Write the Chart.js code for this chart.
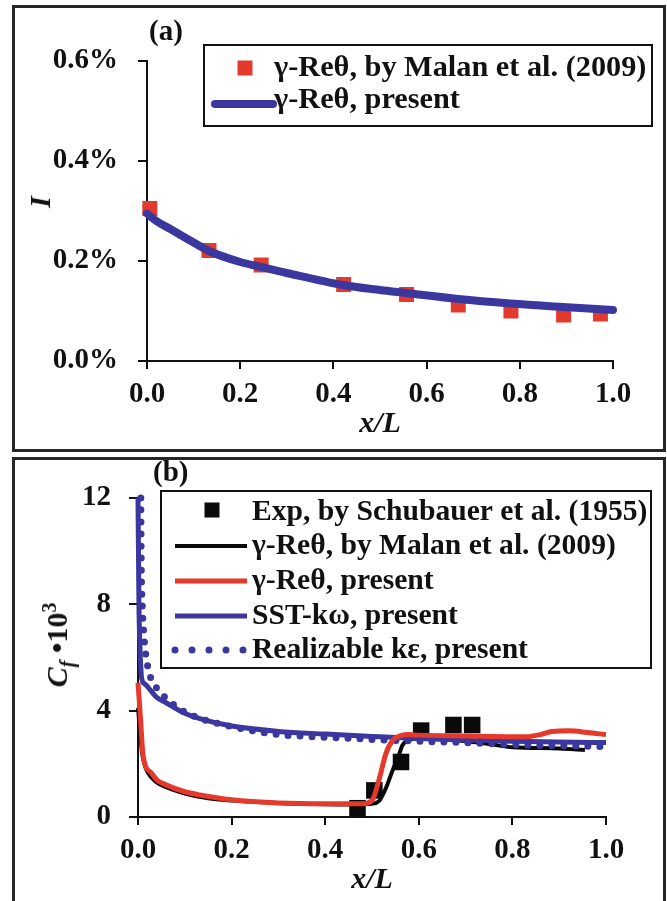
<!DOCTYPE html>
<html>
<head>
<meta charset="utf-8">
<script src="https://cdn.jsdelivr.net/npm/chart.js@4.4.1/dist/chart.umd.min.js"></script>
<style>
  html, body { margin: 0; padding: 0; background: #fff; }
  body { width: 667px; height: 901px; position: relative; overflow: hidden;
         font-family: "Liberation Serif", "Times New Roman", serif; }
  .frame { position: absolute; border: 3px solid #262626; box-sizing: border-box; }
  #frameA { left: 12px; top: 5px; width: 654px; height: 447px; }
  #frameB { left: 12px; top: 457px; width: 654px; height: 470px; }
  canvas { position: absolute; left: 0; }
  #cA { top: 0; }
  #cB { top: 457px; }
  .lbl { position: absolute; font-weight: bold; color: #111; line-height: 1; white-space: nowrap; }
  .rot { transform: translate(-50%, -50%) rotate(-90deg); }
  .lbl sub, .lbl sup { font-size: 20px; line-height: 0; }
</style>
</head>
<body>
<div class="frame" id="frameA"></div>
<div class="frame" id="frameB"></div>
<canvas id="cA" width="667" height="452"></canvas>
<canvas id="cB" width="667" height="444"></canvas>

<div class="lbl" style="left:149px; top:16px; font-size:29px;">(a)</div>
<div class="lbl" style="left:153px; top:457px; font-size:29px;">(b)</div>
<div class="lbl rot" style="left:40px; top:202px; font-size:30px;"><i>I</i></div>
<div class="lbl rot" style="left:57px; top:645px; font-size:30px;"><i>C<sub>f</sub></i> •10<sup>3</sup></div>

<script>
// ---- (a) turbulence intensity along the plate ----
const aMalanX = [0.006, 0.133, 0.245, 0.422, 0.557, 0.668, 0.781, 0.894, 0.973];
const aMalanI = [0.305, 0.221, 0.192, 0.153, 0.133, 0.112, 0.100, 0.092, 0.094];
const aPresentX = [0, 0.02, 0.05, 0.1, 0.133, 0.2, 0.245, 0.3, 0.42, 0.5, 0.556, 0.668, 0.78, 0.893, 1.0];
const aPresentI = [0.295, 0.28, 0.264, 0.237, 0.22, 0.198, 0.188, 0.176, 0.152, 0.142, 0.136, 0.124, 0.115, 0.108, 0.102];
const aYTicks = [0, 0.2, 0.4, 0.6];
const aXTicks = [0, 0.2, 0.4, 0.6, 0.8, 1.0];

// ---- (b) skin friction coefficient ----
const bExpX = [0.469, 0.505, 0.562, 0.605, 0.674, 0.714];
const bExpCf = [0.33, 1.0, 2.07, 3.25, 3.46, 3.46];
const bMalanX = [0, 0.004, 0.008, 0.012, 0.02, 0.04, 0.06, 0.1, 0.15, 0.2, 0.3, 0.4, 0.45, 0.5, 0.515, 0.53, 0.545, 0.557, 0.565, 0.58, 0.6, 0.7, 0.75, 0.8, 0.9, 0.955];
const bMalanCf = [4.1, 3.3, 2.5, 2.1, 1.7, 1.3, 1.12, 0.88, 0.7, 0.62, 0.53, 0.48, 0.47, 0.5, 0.6, 1.1, 1.8, 2.3, 2.7, 2.9, 2.95, 2.85, 2.75, 2.62, 2.58, 2.52];
const bPresentX = [0, 0.003, 0.006, 0.011, 0.029, 0.04, 0.061, 0.1, 0.132, 0.2, 0.3, 0.4, 0.48, 0.5, 0.515, 0.53, 0.545, 0.56, 0.58, 0.6, 0.7, 0.8, 0.83, 0.86, 0.885, 0.92, 0.96, 1.0];
const bPresentCf = [5.05, 4.3, 3.5, 2.3, 1.65, 1.4, 1.2, 0.95, 0.83, 0.65, 0.53, 0.5, 0.5, 0.62, 1.4, 2.4, 2.9, 3.05, 3.1, 3.08, 3.05, 3.02, 3.02, 3.1, 3.22, 3.24, 3.18, 3.1];
const bSstX = [0, 0.001, 0.002, 0.004, 0.008, 0.015, 0.026, 0.04, 0.061, 0.1, 0.132, 0.2, 0.3, 0.4, 0.5, 0.6, 0.7, 0.8, 0.9, 1.0];
const bSstCf = [12, 10, 8, 6.5, 5.2, 5.0, 4.78, 4.5, 4.29, 3.9, 3.7, 3.42, 3.22, 3.12, 3.03, 2.95, 2.9, 2.85, 2.82, 2.8];
const bRkeX = [0.006, 0.007, 0.009, 0.012, 0.016, 0.026, 0.04, 0.055, 0.09, 0.13, 0.175, 0.22, 0.26, 0.3, 0.4, 0.5, 0.6, 0.7, 0.8, 0.9, 1.0];
const bRkeCf = [12, 9.5, 8, 7, 6.2, 5.3, 4.85, 4.55, 4.05, 3.72, 3.5, 3.33, 3.2, 3.1, 3.0, 2.92, 2.85, 2.8, 2.72, 2.68, 2.65];
const bYTicks = [0, 4, 8, 12];
const bXTicks = [0, 0.2, 0.4, 0.6, 0.8, 1.0];

const pts = (xs, ys) => xs.map((x, i) => ({ x: x, y: ys[i] }));

const SERIF = '"Liberation Serif", "Times New Roman", serif';
const INK = '#111';
const BLUE = '#3a379f';
const RED = '#e6382b';

// boxed legend drawn inside the plot, one row per dataset
const boxLegend = {
  id: 'boxLegend',
  afterDatasetsDraw(chart, args, o) {
    const ctx = chart.ctx;
    ctx.save();
    ctx.fillStyle = '#fff';
    ctx.fillRect(o.left, o.top, o.right - o.left, o.bottom - o.top);
    ctx.lineWidth = 2;
    ctx.strokeStyle = INK;
    ctx.strokeRect(o.left, o.top, o.right - o.left, o.bottom - o.top);
    chart.data.datasets.forEach((ds, i) => {
      const y = o.rows[i];
      if (ds.showLine === false) {
        const s = o.markerSize;
        ctx.fillStyle = ds.backgroundColor;
        ctx.fillRect(o.markerX - s / 2, y - s / 2 + o.markerDy, s, s);
      } else {
        ctx.beginPath();
        ctx.strokeStyle = ds.borderColor;
        ctx.lineWidth = ds.borderWidth;
        ctx.lineCap = ds.borderCapStyle || 'butt';
        ctx.setLineDash(ds.legendDash || []);
        ctx.moveTo(o.x1, y + o.lineDy);
        ctx.lineTo(o.x2, y + o.lineDy);
        ctx.stroke();
        ctx.setLineDash([]);
      }
      ctx.fillStyle = INK;
      ctx.font = 'bold ' + o.fontSize + 'px ' + SERIF;
      ctx.textAlign = 'left';
      ctx.textBaseline = 'middle';
      ctx.fillText(ds.label, o.textX, y);
    });
    ctx.restore();
  }
};

function axisX(ticks, height) {
  return {
    type: 'linear', min: 0, max: 1,
    afterBuildTicks: s => { s.ticks = ticks.map(v => ({ value: v })); },
    afterFit: s => { s.height = height; },
    ticks: { callback: v => Number(v).toFixed(1), font: { family: SERIF, size: 29, weight: 'bold' },
             color: INK, padding: 8, maxRotation: 0, autoSkip: false },
    grid: { drawOnChartArea: false, drawTicks: true, tickLength: 8, color: INK, lineWidth: 2 },
    border: { display: true, color: INK, width: 2 },
    title: { display: true, text: 'x/L', color: INK,
             font: { family: SERIF, size: 30, style: 'italic', weight: 'bold' }, padding: { top: 0, bottom: 0 } }
  };
}

function axisY(ticks, max, width, pad, fmt, size) {
  return {
    type: 'linear', min: 0, max: max,
    afterBuildTicks: s => { s.ticks = ticks.map(v => ({ value: v })); },
    afterFit: s => { s.width = width; },
    ticks: { callback: fmt, font: { family: SERIF, size: size, weight: 'bold' }, color: INK, padding: pad },
    grid: { drawOnChartArea: false, drawTicks: true, tickLength: 9, color: INK, lineWidth: 2 },
    border: { display: true, color: INK, width: 2 }
  };
}

Chart.defaults.animation = false;

new Chart(document.getElementById('cA'), {
  type: 'line',
  data: {
    datasets: [
      { label: 'γ-Reθ, by Malan et al. (2009)', data: pts(aMalanX, aMalanI), showLine: false,
        pointStyle: 'rect', pointRadius: 10.6, pointBorderWidth: 0, backgroundColor: '#e4392d', order: 1, clip: false },
      { label: 'γ-Reθ, present', data: pts(aPresentX, aPresentI), borderColor: BLUE, borderWidth: 8,
        pointRadius: 0, cubicInterpolationMode: 'monotone', borderCapStyle: 'round', order: 0, clip: false }
    ]
  },
  options: {
    responsive: false,
    devicePixelRatio: 1,
    layout: { padding: { left: 20, right: 54, top: 61, bottom: 10 } },
    scales: {
      x: axisX(aXTicks, 81),
      y: axisY(aYTicks, 0.6, 127, 20, v => Number(v).toFixed(1) + '%', 29)
    },
    plugins: {
      legend: { display: false },
      tooltip: { enabled: false },
      boxLegend: { left: 204, top: 45, right: 652, bottom: 126, rows: [68, 100],
                   markerX: 245, markerSize: 15, markerDy: 0, x1: 215, x2: 273, lineDy: 4,
                   textX: 274, fontSize: 30.3 }
    }
  },
  plugins: [boxLegend]
});

new Chart(document.getElementById('cB'), {
  type: 'line',
  data: {
    datasets: [
      { label: 'Exp, by Schubauer et al. (1955)', data: pts(bExpX, bExpCf), showLine: false,
        pointStyle: 'rect', pointRadius: 11.7, pointBorderWidth: 0, backgroundColor: '#0a0a0a', order: 4, clip: false },
      { label: 'γ-Reθ, by Malan et al. (2009)', data: pts(bMalanX, bMalanCf), borderColor: '#0a0a0a', borderWidth: 4,
        pointRadius: 0, cubicInterpolationMode: 'monotone', order: 3, clip: false },
      { label: 'γ-Reθ, present', data: pts(bPresentX, bPresentCf), borderColor: RED, borderWidth: 5,
        pointRadius: 0, cubicInterpolationMode: 'monotone', order: 0, clip: false },
      { label: 'SST-kω, present', data: pts(bSstX, bSstCf), borderColor: BLUE, borderWidth: 5,
        pointRadius: 0, cubicInterpolationMode: 'monotone', order: 1, clip: false },
      { label: 'Realizable kε, present', data: pts(bRkeX, bRkeCf), borderColor: BLUE, borderWidth: 7,
        borderDash: [0, 12], borderCapStyle: 'round', legendDash: [0, 17],
        pointRadius: 0, cubicInterpolationMode: 'monotone', order: 2, clip: false }
    ]
  },
  options: {
    responsive: false,
    devicePixelRatio: 1,
    layout: { padding: { left: 20, right: 61, top: 41, bottom: 3 } },
    scales: {
      x: axisX(bXTicks, 81),
      y: axisY(bYTicks, 12, 118, 18, v => String(v), 29)
    },
    plugins: {
      legend: { display: false },
      tooltip: { enabled: false },
      boxLegend: { left: 161, top: 34, right: 651, bottom: 211, rows: [55, 89, 124, 159, 193],
                   markerX: 212, markerSize: 15, markerDy: -2, x1: 175, x2: 247, lineDy: 0,
                   textX: 252, fontSize: 29.6 }
    }
  },
  plugins: [boxLegend]
});
</script>
</body>
</html>
